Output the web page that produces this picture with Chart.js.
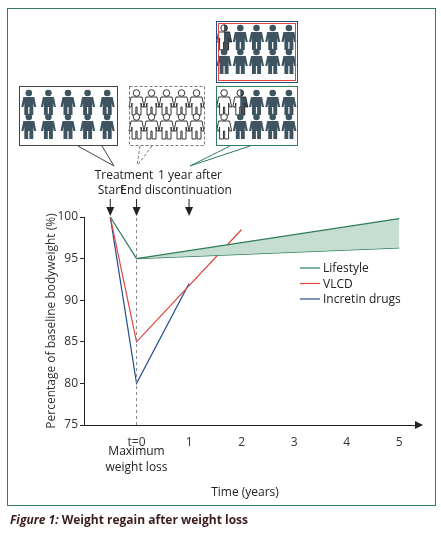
<!DOCTYPE html>
<html><head><meta charset="utf-8">
<script src="https://cdn.jsdelivr.net/npm/chart.js@4"></script>
<style>body{margin:0;background:#fff}#wrap{width:441px;height:533px}</style>
</head><body><div id="wrap"><canvas id="chart" width="441" height="533"></canvas></div>
<script>
'use strict';

var xTicks = [0, 1, 2, 3, 4, 5];
var yTicks = [75, 80, 85, 90, 95, 100];
var lifestyleDrop = [{x: -0.5, y: 100}, {x: 0, y: 95}];
var lifestyleHigh = [{x: 0, y: 95}, {x: 5, y: 99.8}];
var lifestyleLow = [{x: 0, y: 95}, {x: 5, y: 96.3}];
var vlcd = [{x: -0.5, y: 100}, {x: 0, y: 85}, {x: 2, y: 98.5}];
var incretin = [{x: -0.5, y: 100}, {x: 0, y: 80}, {x: 1, y: 92}];
var legendNames = ['Lifestyle', 'VLCD', 'Incretin drugs'];
var legendColors = ['#2e7d5b', '#e0453e', '#1f4e8c'];
var arrowsAt = [-0.5, 0, 1];

var FONT = '"Liberation Sans Narrow", "Open Sans", sans-serif';
var DARK = '#3e5561';

function person(ctx, x, y, kind) {
  ctx.save();
  ctx.translate(x, y);
  function shape() {
    ctx.beginPath();
    ctx.arc(0, -9, 3.3, 0, Math.PI * 2);
    ctx.moveTo(-5.5, -5);
    ctx.lineTo(5.5, -5);
    ctx.lineTo(7.5, 5);
    ctx.lineTo(5.3, 5);
    ctx.lineTo(4.5, 1);
    ctx.lineTo(4.5, 13);
    ctx.lineTo(0.6, 13);
    ctx.lineTo(0.6, 5);
    ctx.lineTo(-0.6, 5);
    ctx.lineTo(-0.6, 13);
    ctx.lineTo(-4.5, 13);
    ctx.lineTo(-4.5, 1);
    ctx.lineTo(-5.3, 5);
    ctx.lineTo(-7.5, 5);
    ctx.closePath();
  }
  if (kind === 'dark') {
    ctx.fillStyle = DARK;
    shape(); ctx.fill();
  } else {
    ctx.fillStyle = '#fff';
    shape(); ctx.fill();
    if (kind === 'half') {
      ctx.save();
      ctx.beginPath(); ctx.rect(0, -15, 10, 30); ctx.clip();
      ctx.fillStyle = DARK; shape(); ctx.fill();
      ctx.restore();
    }
    ctx.strokeStyle = '#222';
    ctx.lineWidth = 0.9;
    shape(); ctx.stroke();
  }
  ctx.restore();
}

function box(ctx, x0, y0, w, h, kinds) {
  var dx = w / 5;
  for (var r = 0; r < 2; r++) {
    for (var c = 0; c < 5; c++) {
      person(ctx, x0 + dx * (c + 0.5), y0 + 16 + r * 24, kinds[r * 5 + c]);
    }
  }
}

var decor = {
  id: 'decor',
  beforeDraw: function (chart) {
    var ctx = chart.ctx;
    ctx.save();
    ctx.fillStyle = '#fff';
    ctx.fillRect(0, 0, 441, 533);
    ctx.strokeStyle = '#2e7d5b';
    ctx.lineWidth = 1;
    ctx.strokeRect(7.5, 8.5, 428, 497);
    ctx.restore();
  },
  afterDraw: function (chart) {
    var ctx = chart.ctx;
    var xs = chart.scales.x, ys = chart.scales.y;
    ctx.save();
    var x0 = xs.getPixelForValue(0);
    ctx.setLineDash([3, 3]);
    ctx.strokeStyle = '#888';
    ctx.lineWidth = 1;
    ctx.beginPath(); ctx.moveTo(x0, ys.bottom); ctx.lineTo(x0, 215); ctx.stroke();
    ctx.setLineDash([]);
    ctx.fillStyle = '#222'; ctx.strokeStyle = '#222';
    arrowsAt.forEach(function (v) {
      var px = xs.getPixelForValue(v);
      ctx.beginPath(); ctx.moveTo(px, 199); ctx.lineTo(px, 208); ctx.stroke();
      ctx.beginPath(); ctx.moveTo(px - 4, 207); ctx.lineTo(px + 4, 207); ctx.lineTo(px, 216); ctx.closePath(); ctx.fill();
    });
    ctx.beginPath(); ctx.moveTo(xs.right, ys.bottom - 4); ctx.lineTo(xs.right + 8, ys.bottom); ctx.lineTo(xs.right, ys.bottom + 4); ctx.closePath(); ctx.fill();
    ctx.fillStyle = '#222';
    ctx.font = '12px ' + FONT;
    ctx.textAlign = 'center';
    ctx.fillText('Treatment', 124, 179);
    ctx.fillText('1 year after', 190, 179);
    ctx.fillText('Start', 111, 194);
    ctx.fillText('End discontinuation', 176, 194);
    ctx.fillText('Maximum', x0, 455);
    ctx.fillText('weight loss', x0, 471);
    ctx.fillText('Time (years)', 245, 496);
    ctx.textAlign = 'left';
    for (var i = 0; i < legendNames.length; i++) {
      var ly = 268 + i * 15.5;
      ctx.strokeStyle = legendColors[i]; ctx.lineWidth = 1.2;
      ctx.beginPath(); ctx.moveTo(300, ly); ctx.lineTo(320, ly); ctx.stroke();
      ctx.fillStyle = '#222';
      ctx.fillText(legendNames[i], 323, ly + 4);
    }
    ctx.fillStyle = '#3b1d1d';
    ctx.font = 'italic bold 12px ' + FONT;
    ctx.fillText('Figure 1:', 10, 524);
    var w = ctx.measureText('Figure 1: ').width;
    ctx.font = 'bold 12px ' + FONT;
    ctx.fillText('Weight regain after weight loss', 10 + w, 524);
    var dark = [], white = [];
    for (var k = 0; k < 10; k++) { dark.push('dark'); white.push('white'); }
    box(ctx, 19, 86, 98, 59, dark);
    box(ctx, 129, 86, 75, 59, white);
    box(ctx, 216, 86, 81, 59, ['white', 'half', 'dark', 'dark', 'dark', 'white', 'dark', 'dark', 'dark', 'dark']);
    box(ctx, 216, 21, 81, 61, ['half', 'dark', 'dark', 'dark', 'dark', 'dark', 'dark', 'dark', 'dark', 'dark']);
    ctx.lineWidth = 1;
    ctx.strokeStyle = '#444';
    ctx.strokeRect(19.5, 86.5, 98, 59);
    ctx.setLineDash([3, 2]);
    ctx.strokeStyle = '#777';
    ctx.strokeRect(129.5, 86.5, 75, 59);
    ctx.beginPath(); ctx.moveTo(140, 146); ctx.lineTo(137, 166); ctx.moveTo(152, 146); ctx.lineTo(137, 166); ctx.stroke();
    ctx.setLineDash([]);
    ctx.strokeStyle = '#444';
    ctx.beginPath(); ctx.moveTo(78, 146); ctx.lineTo(114, 166); ctx.lineTo(102, 146); ctx.stroke();
    ctx.strokeStyle = '#2e7d5b';
    ctx.strokeRect(216.5, 86.5, 81, 59);
    ctx.beginPath(); ctx.moveTo(230, 146); ctx.lineTo(190, 166); ctx.lineTo(250, 146); ctx.stroke();
    ctx.strokeStyle = '#1f4e8c';
    ctx.strokeRect(216.5, 21.5, 81, 61);
    ctx.strokeStyle = '#e0453e';
    ctx.strokeRect(218.5, 23.5, 77, 57);
    ctx.restore();
  }
};

function line(data, color, fill, bg) {
  return {data: data, borderColor: color, borderWidth: 1.2, pointRadius: 0,
    fill: fill || false, backgroundColor: bg || color, tension: 0};
}

new Chart(document.getElementById('chart'), {
  type: 'line',
  data: {
    datasets: [
      line(lifestyleHigh, '#2e7d5b', '+1', '#c6ded1'),
      line(lifestyleLow, '#2e7d5b'),
      line(lifestyleDrop, '#2e7d5b'),
      line(vlcd, '#e0453e'),
      line(incretin, '#1f4e8c')
    ]
  },
  options: {
    responsive: false,
    animation: false,
    layout: {padding: {left: 44, top: 217, right: 26, bottom: 80}},
    plugins: {legend: {display: false}, tooltip: {enabled: false}},
    scales: {
      x: {
        type: 'linear', min: -1, max: 5.3,
        afterBuildTicks: function (s) { s.ticks = xTicks.map(function (v) { return {value: v}; }); },
        afterFit: function (s) { s.height = 28; },
        grid: {display: false, drawTicks: false},
        border: {color: '#222', width: 1},
        ticks: {color: '#333', font: {family: FONT, size: 12}, padding: 10,
          callback: function (v) { return v === 0 ? 't=0' : v; }}
      },
      y: {
        min: 75, max: 100,
        afterBuildTicks: function (s) { s.ticks = yTicks.map(function (v) { return {value: v}; }); },
        afterFit: function (s) { s.width = 40; },
        grid: {drawOnChartArea: false, tickLength: 4, color: '#222'},
        border: {color: '#222', width: 1},
        title: {display: true, text: 'Percentage of baseline bodyweight (%)', color: '#333', font: {family: FONT, size: 12}, padding: 0},
        ticks: {color: '#333', font: {family: FONT, size: 12}, padding: 2}
      }
    }
  },
  plugins: [decor]
});
</script>
</body></html>
